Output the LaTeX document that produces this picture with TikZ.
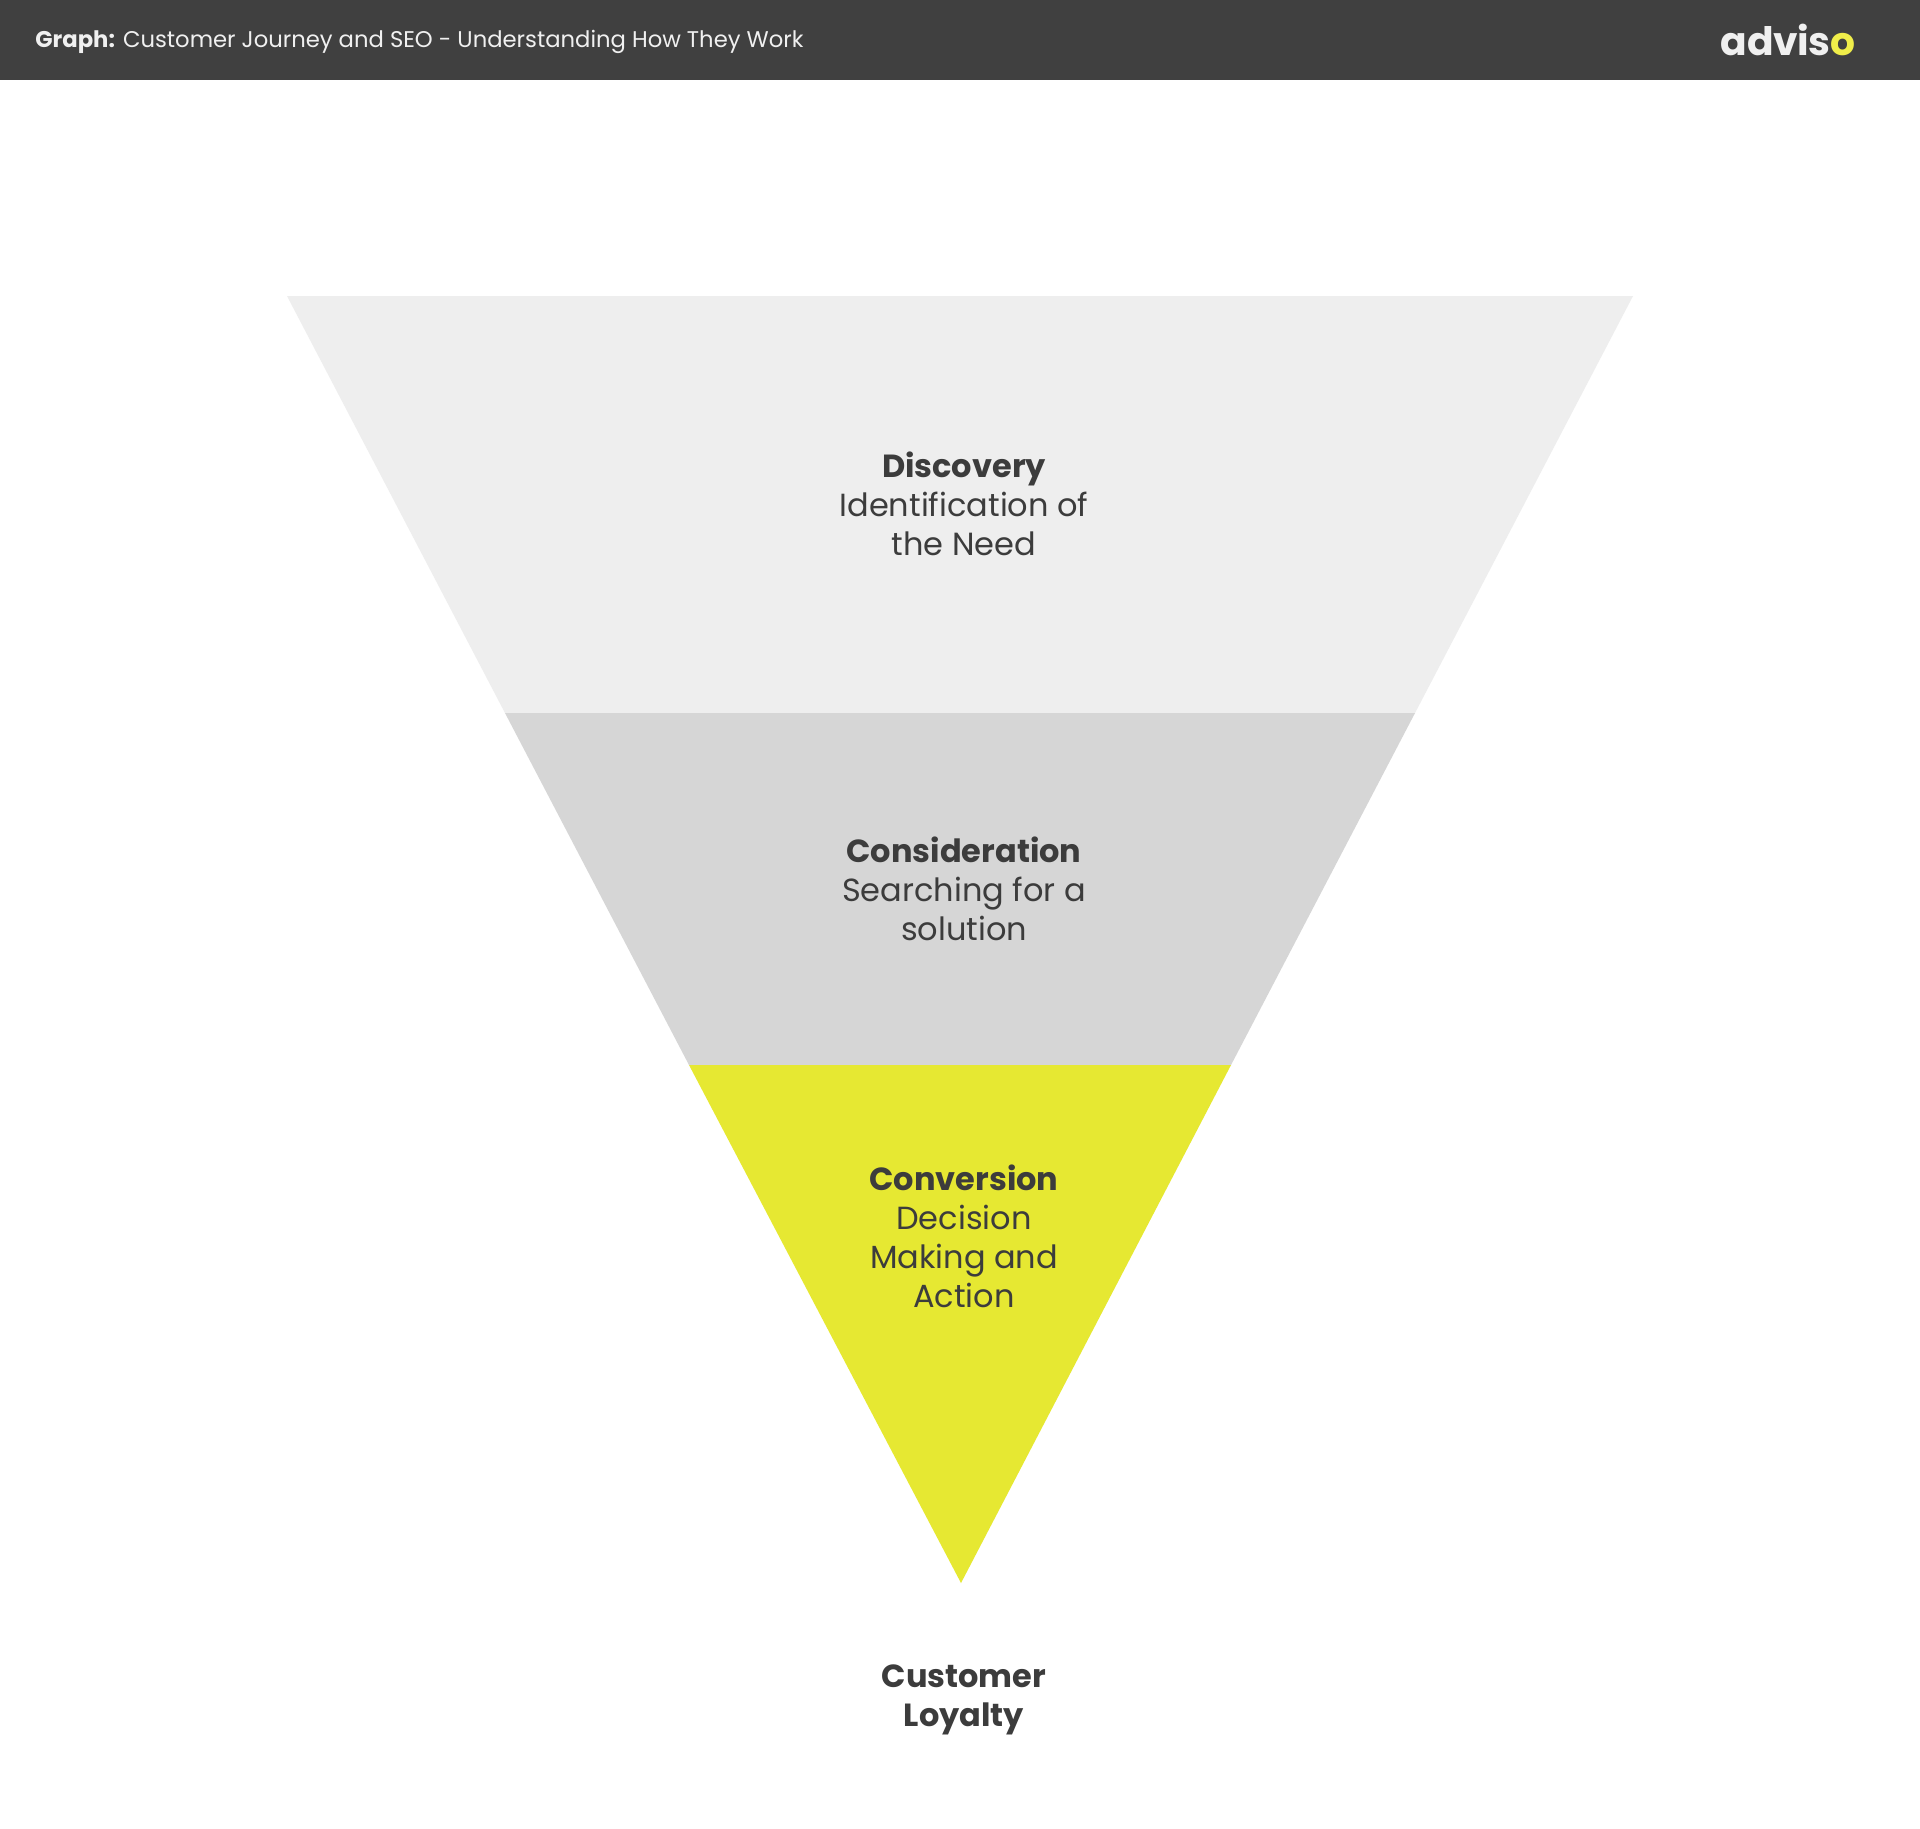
\documentclass[tikz,border=0pt]{standalone}
\usepackage{fontspec}
\setmainfont{Poppins}
\definecolor{hdr}{HTML}{404040}
\definecolor{txt}{HTML}{3C3C3C}
\definecolor{bandA}{HTML}{EEEEEE}
\definecolor{bandB}{HTML}{D6D6D6}
\definecolor{bandC}{HTML}{E6E832}
\definecolor{logoW}{HTML}{F0F0F0}
\definecolor{logoY}{HTML}{F0EE4A}
\begin{document}
\begin{tikzpicture}[x=0.5pt,y=-0.5pt,
  stagetext/.style={align=center,text=txt,inner sep=0pt,anchor=base,
    font=\fontsize{16}{19.5}\selectfont},
  band/.style={draw=none}]
\useasboundingbox (0,0) rectangle (1920,1828);
\fill[white] (0,0) rectangle (1920,1828);
% header
\fill[hdr] (0,0) rectangle (1920,80);
\node[anchor=base west,inner sep=0pt,text=logoW,font=\fontsize{11.35}{13}\selectfont] (title) at (35,47)
  {\textbf{Graph:} Customer Journey and SEO - Understanding How They Work};
\node[anchor=base west,inner sep=0pt,text=logoW,font=\fontsize{19.6}{24}\bfseries] (logo) at (1720,55)
  {adv\kern-0.5pt is\textcolor{logoY}{o}};
% funnel
\fill[bandA] (287,296) -- (1633,296) -- (1415,713) -- (505,713) -- cycle;
\fill[bandB] (505,713) -- (1415,713) -- (1231,1065) -- (689,1065) -- cycle;
\fill[bandC] (689,1065) -- (1231,1065) -- (961,1583) -- cycle;
% texts (base anchor sits on the last line)
\node[stagetext] (disc) at (964,555) {\textbf{Discovery}\\Identification of\\the Need};
\node[stagetext] (cons) at (964,940) {\textbf{Consideration}\\Searching for a\\solution};
\node[stagetext] (conv) at (964,1307) {\textbf{Conversion}\\Decision\\Making and\\Action};
\node[stagetext] (loyal) at (964,1726) {\textbf{Customer}\\\textbf{Loyalty}};
\end{tikzpicture}
\end{document}
